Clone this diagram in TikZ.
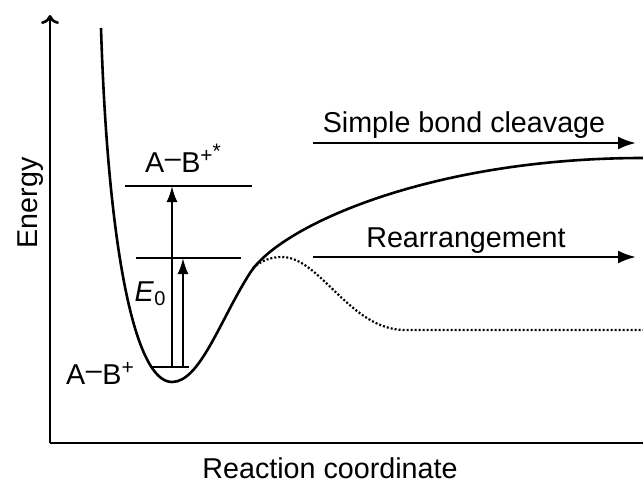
\documentclass[tikz,border=0pt]{standalone}
\usepackage{fontspec}
\setmainfont{Liberation Sans}
\usetikzlibrary{arrows.meta}
\begin{document}
\begin{tikzpicture}[x=1pt,y=-1pt,
  lbl/.style={inner sep=0pt,font=\fontsize{28.7}{34}\selectfont},
  curve/.style={line width=2.6pt,line join=round},
  level/.style={line width=1.8pt},
  up/.style={line width=2.2pt,-{Latex[length=16pt,width=11pt]}},
  proc/.style={line width=2.6pt,-{Latex[length=18pt,width=13pt]}},
  axis/.style={line width=2.6pt,-{To[length=9pt,width=18pt,line width=2.6pt]}}]
\useasboundingbox (0,0) rectangle (643,485);
% axes
\coordinate (O) at (50,443);
\coordinate (Ytop) at (50,15);
\coordinate (Xend) at (645,443);
\draw[axis] (O) -- (Ytop);
\draw[line width=2.6pt] (O) -- (Xend);
\node[lbl,rotate=90,anchor=base] (en) at (37,203) {Energy};
\node[lbl,anchor=base] (rc) at (330,478) {Reaction coordinate};
% potential curve
\draw[curve] (101,28) .. controls (108,250) and (135,382) .. (172,382)
  .. controls (200,382) and (220,320) .. (250,273)
  .. controls (280,226) and (430,158) .. (643,158);
% rearrangement path
\draw[line width=2.2pt,dash pattern=on 2pt off 2pt] (253,268) .. controls (262,260) and (272,257) .. (282,257)
  .. controls (320,257) and (350,330) .. (405,330) -- (643,330);
% levels
\coordinate (L1a) at (125,186); \coordinate (L1b) at (252,186);
\coordinate (L2a) at (136,258); \coordinate (L2b) at (241,258);
\coordinate (L0a) at (152,367); \coordinate (L0b) at (189,367);
\draw[level] (L1a) -- (L1b);
\draw[level] (L2a) -- (L2b);
\draw[level] (L0a) -- (L0b);
\coordinate (a1s) at (172,367); \coordinate (a1e) at (172,186);
\coordinate (a2s) at (183,367); \coordinate (a2e) at (183,258);
\draw[up] (a1s) -- (a1e);
\draw[up] (a2s) -- (a2e);
\node[lbl,anchor=base] (abst) at (183,172) {A\kern0.02em\raisebox{0.3ex}{–}\kern0.02em B\raisebox{0.65ex}{\fontsize{21}{24}\selectfont +\raisebox{0.3ex}{*}}};
\node[lbl,anchor=base] (e0) at (150,301) {\itshape E\kern0.02em\raisebox{-0.3ex}{\upshape\fontsize{20}{24}\selectfont 0}};
\node[lbl,anchor=base] (ab) at (100,384) {A\kern0.02em\raisebox{0.3ex}{–}\kern0.02em B\raisebox{0.65ex}{\fontsize{21}{24}\selectfont +}};
% process arrows
\coordinate (s1) at (313,143); \coordinate (s2) at (636,143);
\coordinate (r1) at (313,257); \coordinate (r2) at (636,257);
\draw[proc] (s1) -- (s2);
\draw[proc] (r1) -- (r2);
\node[lbl,anchor=base] (sbc) at (464,132) {Simple bond cleavage};
\node[lbl,anchor=base] (rea) at (466,247) {Rearrangement};
\end{tikzpicture}
\end{document}
